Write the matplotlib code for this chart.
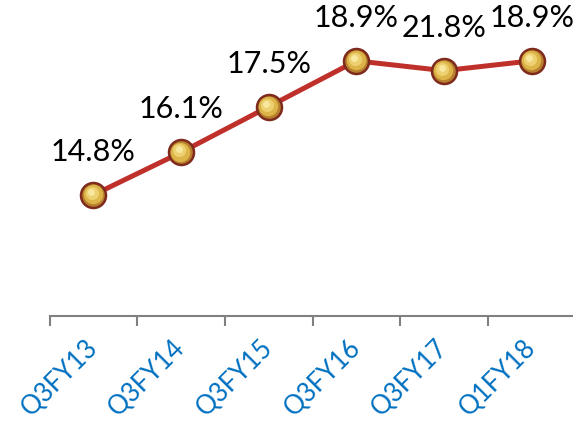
import numpy as np
import matplotlib
matplotlib.use('Agg')
import matplotlib.pyplot as plt
import matplotlib.transforms as mtransforms

# data
quarters = ['Q3FY13', 'Q3FY14', 'Q3FY15', 'Q3FY16', 'Q3FY17', 'Q1FY18']
values = [14.8, 16.1, 17.5, 18.9, 18.6, 18.9]   # plotted heights
labels = ['14.8%', '16.1%', '17.5%', '18.9%', '21.8%', '18.9%']  # printed labels

plt.rcParams['font.family'] = ['Lato', 'DejaVu Sans']

fig = plt.figure(figsize=(5.73, 4.22), dpi=100)
ax = fig.add_axes([0.0864, 0.2512, 0.918, 0.7488])

x = np.arange(len(quarters))
ax.plot(x, values, color='#C0302B', lw=3.6, zorder=2, solid_capstyle='round')

# marker "sphere" built from layers
ax.plot(x, values, 'o', ms=18, mfc='#B8802E', mec='#7E2A1C', mew=1.8, zorder=3)
t1 = mtransforms.offset_copy(ax.transData, fig=fig, x=-0.5, y=0.5, units='points')
ax.plot(x, values, 'o', ms=14, mfc='#DDB448', mec='none', zorder=4, transform=t1)
t2 = mtransforms.offset_copy(ax.transData, fig=fig, x=-1.2, y=1.4, units='points')
ax.plot(x, values, 'o', ms=9.5, mfc='#EDD070', mec='none', zorder=5, transform=t2)
t3 = mtransforms.offset_copy(ax.transData, fig=fig, x=-1.8, y=2.2, units='points')
ax.plot(x, values, 'o', ms=5, mfc='#F8E89E', mec='none', zorder=6, transform=t3)

for xi, v, lab in zip(x, values, labels):
    ax.annotate(lab, (xi, v), xytext=(0, 31), textcoords='offset points',
                ha='center', va='center', fontsize=22, color='black')

ax.set_xlim(-0.5, len(quarters) - 0.5)
ax.set_ylim(11.1, 20.76)

ax.set_xticks(np.arange(len(quarters)) - 0.5)
ax.set_xticklabels([])
ax.tick_params(axis='x', which='major', length=7, width=1.5, color='#808080')
ax.set_xticks(x, minor=True)
ax.set_xticklabels(quarters, minor=True, rotation=45, ha='right', va='center',
                   rotation_mode='anchor', fontsize=18.5, color='#0070C0')
ax.tick_params(axis='x', which='minor', length=0, pad=20)

ax.set_yticks([])
for s in ['top', 'right', 'left']:
    ax.spines[s].set_visible(False)
ax.spines['bottom'].set_color('#808080')
ax.spines['bottom'].set_linewidth(1.5)
ax.patch.set_visible(False)

fig.savefig('out.png', dpi=100)
